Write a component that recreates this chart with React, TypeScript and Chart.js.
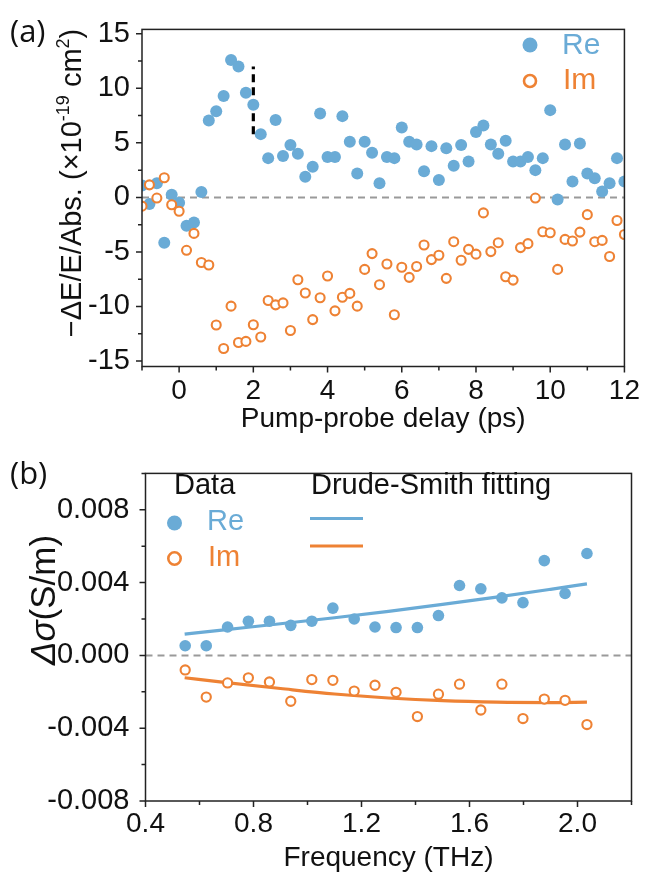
import React, { useEffect, useRef } from "react";
import { Chart, registerables } from "chart.js";
Chart.register(...registerables);

const FONT = "'Liberation Sans', Arial, sans-serif";
const BLUE = "#6aabd6";
const ORANGE = "#ee8234";
const INK = "#111111";

// ---------- Panel (a) data ----------
const DELAY = [
  -1.0, -0.8, -0.6, -0.4, -0.2, 0.0, 0.2, 0.4, 0.6, 0.8, 1.0, 1.2, 1.4, 1.6, 1.8, 2.0,
  2.2, 2.4, 2.6, 2.8, 3.0, 3.2, 3.4, 3.6, 3.8, 4.0, 4.2, 4.4, 4.6, 4.8, 5.0, 5.2, 5.4,
  5.6, 5.8, 6.0, 6.2, 6.4, 6.6, 6.8, 7.0, 7.2, 7.4, 7.6, 7.8, 8.0, 8.2, 8.4, 8.6, 8.8,
  9.0, 9.2, 9.4, 9.6, 9.8, 10.0, 10.2, 10.4, 10.6, 10.8, 11.0, 11.2, 11.4, 11.6, 11.8, 12.0,
];
const RE_A = [
  1.1, -0.6, 1.3, -4.15, 0.24, -0.5, -2.6, -2.3, 0.5, 7.06, 7.9, 9.3, 12.6, 12.0, 9.6, 8.5,
  5.8, 3.6, 7.1, 3.8, 4.8, 4.0, 1.9, 2.8, 7.7, 3.7, 3.7, 7.45, 5.1, 2.2, 5.1, 4.1, 1.3,
  3.7, 3.6, 6.4, 5.1, 4.85, 2.4, 4.7, 1.6, 4.5, 2.9, 4.8, 3.3, 6.0, 6.6, 4.85, 4.0, 5.2,
  3.3, 3.3, 3.7, 2.5, 3.6, 8.0, -0.2, 4.85, 1.45, 4.95, 2.2, 1.75, 0.55, 1.3, 3.6, 1.45,
];
const IM_A = [
  -0.8, 1.15, -0.06, 1.8, -0.67, -1.27, -4.85, -3.3, -5.97, -6.2, -11.7, -13.85, -9.97, -13.3, -13.2, -11.67,
  -12.8, -9.45, -9.85, -9.67, -12.2, -7.55, -8.76, -11.2, -9.2, -7.2, -10.4, -9.15, -8.8, -9.97, -6.6, -5.15, -8.0,
  -6.1, -10.76, -6.4, -7.33, -6.33, -4.36, -5.7, -5.3, -7.42, -4.06, -5.76, -4.76, -5.2, -1.42, -4.97, -4.15, -7.27,
  -7.58, -4.6, -4.24, -0.06, -3.15, -3.24, -6.6, -3.85, -4.0, -3.18, -1.58, -4.06, -3.94, -5.42, -2.12, -3.4,
];
const MARK_X = [2.0, 2.0];
const MARK_Y = [5.8, 12.0];
const X_MAJOR_A = [0, 2, 4, 6, 8, 10, 12];
const X_MINOR_A = [-1, 1, 3, 5, 7, 9, 11];
const Y_MAJOR_A = [-15, -10, -5, 0, 5, 10, 15];
const Y_MINOR_A = [-12.5, -7.5, -2.5, 2.5, 7.5, 12.5];
const X_LABELS_A = ["0", "2", "4", "6", "8", "10", "12"];
const Y_LABELS_A = ["-15", "-10", "-5", "0", "5", "10", "15"];

// ---------- Panel (b) data ----------
const FREQ = [
  0.547, 0.625, 0.704, 0.781, 0.859, 0.938, 1.016, 1.094, 1.173, 1.25,
  1.328, 1.407, 1.485, 1.563, 1.642, 1.72, 1.798, 1.877, 1.954, 2.035,
];
const SIG_RE = [
  0.00053, 0.00053, 0.00156, 0.00188, 0.00188, 0.00165, 0.00188, 0.0026, 0.002, 0.00156,
  0.00153, 0.00153, 0.00219, 0.00384, 0.00366, 0.00316, 0.0029, 0.00521, 0.0034, 0.0056,
];
const SIG_IM = [
  -0.0008, -0.00229, -0.00151, -0.00123, -0.00146, -0.00252, -0.00133, -0.00137, -0.00196, -0.00164,
  -0.00203, -0.00336, -0.00213, -0.00158, -0.003, -0.00158, -0.00347, -0.0024, -0.00247, -0.0038,
];
const FIT_FREQ = [0.545, 0.7, 0.9, 1.1, 1.3, 1.5, 1.7, 1.9, 2.035];
const FIT_RE = [0.00117, 0.00142, 0.00174, 0.00207, 0.00242, 0.0028, 0.0032, 0.00363, 0.00393];
const FIT_IM = [-0.00123, -0.0015, -0.00182, -0.00212, -0.00234, -0.00249, -0.00257, -0.00259, -0.00257];
const X_MAJOR_B = [0.4, 0.8, 1.2, 1.6, 2.0];
const X_MINOR_B = [0.6, 1.0, 1.4, 1.8, 2.2];
const Y_MAJOR_B = [-0.008, -0.004, 0, 0.004, 0.008];
const Y_MINOR_B = [-0.006, -0.002, 0.002, 0.006, 0.01];
const X_LABELS_B = ["0.4", "0.8", "1.2", "1.6", "2.0"];
const Y_LABELS_B = ["-0.008", "-0.004", "0.000", "0.004", "0.008"];

const pts = (xs: number[], ys: number[]) => xs.map((x, i) => ({ x, y: ys[i] }));

type Seg = { t: string; size: number; dy?: number; italic?: boolean };

function drawRich(ctx: CanvasRenderingContext2D, segs: Seg[], cx: number, cy: number, rotate: boolean, color: string) {
  ctx.save();
  ctx.translate(cx, cy);
  if (rotate) ctx.rotate(-Math.PI / 2);
  const widths = segs.map((s) => {
    ctx.font = `${s.italic ? "italic " : ""}${s.size}px ${FONT}`;
    return ctx.measureText(s.t).width;
  });
  const total = widths.reduce((a, b) => a + b, 0);
  let x = -total / 2;
  const base = segs[0].size * 0.36;
  ctx.fillStyle = color;
  ctx.textBaseline = "alphabetic";
  ctx.textAlign = "left";
  segs.forEach((s, i) => {
    ctx.font = `${s.italic ? "italic " : ""}${s.size}px ${FONT}`;
    ctx.fillText(s.t, x, base + (s.dy || 0));
    x += widths[i];
  });
  ctx.restore();
}

function text(ctx: CanvasRenderingContext2D, t: string, x: number, y: number, size: number, color: string, family = FONT) {
  ctx.font = `${size}px ${family}`;
  ctx.fillStyle = color;
  ctx.textBaseline = "middle";
  ctx.textAlign = "left";
  ctx.fillText(t, x, y);
}

function dot(ctx: CanvasRenderingContext2D, x: number, y: number, r: number) {
  ctx.beginPath();
  ctx.arc(x, y, r, 0, Math.PI * 2);
  ctx.fillStyle = BLUE;
  ctx.fill();
}
function ring(ctx: CanvasRenderingContext2D, x: number, y: number, r: number, w: number) {
  ctx.beginPath();
  ctx.arc(x, y, r, 0, Math.PI * 2);
  ctx.fillStyle = "#fff";
  ctx.fill();
  ctx.lineWidth = w;
  ctx.strokeStyle = ORANGE;
  ctx.stroke();
}

function framePlugin(
  id: string,
  xMajor: number[],
  xMinor: number[],
  yMajor: number[],
  yMinor: number[],
  extra: (ctx: CanvasRenderingContext2D, chart: any) => void
) {
  return {
    id,
    afterDraw(chart: any) {
      const { ctx, chartArea: a, scales } = chart;
      const x = scales.x;
      const y = scales.y;
      ctx.save();
      ctx.strokeStyle = "#222";
      ctx.lineWidth = 1.5;
      ctx.strokeRect(a.left, a.top, a.right - a.left, a.bottom - a.top);
      ctx.beginPath();
      xMajor.forEach((v) => {
        const p = x.getPixelForValue(v);
        ctx.moveTo(p, a.bottom);
        ctx.lineTo(p, a.bottom + 6);
      });
      xMinor.forEach((v) => {
        const p = x.getPixelForValue(v);
        ctx.moveTo(p, a.bottom);
        ctx.lineTo(p, a.bottom + 4);
      });
      yMajor.forEach((v) => {
        const p = y.getPixelForValue(v);
        ctx.moveTo(a.left, p);
        ctx.lineTo(a.left - 6, p);
      });
      yMinor.forEach((v) => {
        const p = y.getPixelForValue(v);
        ctx.moveTo(a.left, p);
        ctx.lineTo(a.left - 4, p);
      });
      ctx.stroke();
      extra(ctx, chart);
      ctx.restore();
    },
  };
}

function axis(
  min: number,
  max: number,
  major: number[],
  labels: string[],
  size: number,
  pad: number,
  fit: (s: any) => void,
  title?: any
) {
  return {
    type: "linear",
    min,
    max,
    grid: { display: false, drawTicks: false },
    border: { display: false },
    afterBuildTicks: (s: any) => {
      s.ticks = major.map((v) => ({ value: v }));
    },
    afterFit: fit,
    ticks: {
      autoSkip: false,
      maxRotation: 0,
      padding: pad,
      color: INK,
      font: { size, family: FONT },
      callback: (_v: any, i: number) => labels[i],
    },
    title: title || { display: false },
  };
}

export default function App() {
  const refA = useRef<HTMLCanvasElement>(null);
  const refB = useRef<HTMLCanvasElement>(null);

  useEffect(() => {
    Chart.defaults.font.family = FONT;

    const extraA = (ctx: CanvasRenderingContext2D) => {
      text(ctx, "(a)", 10, 33, 31, INK, "'Open Sans', 'Noto Sans', sans-serif");
      drawRich(
        ctx,
        [
          { t: "\u2212\u0394E/E/Abs. (\u00d710", size: 29 },
          { t: "-19", size: 18, dy: -12 },
          { t: " cm", size: 29 },
          { t: "2", size: 18, dy: -12 },
          { t: ")", size: 29 },
        ],
        71,
        183,
        true,
        INK
      );
      dot(ctx, 530, 45, 7.5);
      text(ctx, "Re", 562, 46, 30, BLUE);
      ring(ctx, 530, 81, 6, 2.6);
      text(ctx, "Im", 563, 81, 30, ORANGE);
    };

    const chartA = new Chart(refA.current as HTMLCanvasElement, {
      type: "scatter",
      data: {
        datasets: [
          {
            label: "Im",
            data: pts(DELAY, IM_A),
            pointStyle: "circle",
            pointRadius: 4.5,
            pointBorderWidth: 2.1,
            pointBorderColor: ORANGE,
            pointBackgroundColor: "#fff",
            borderColor: ORANGE,
            backgroundColor: "#fff",
            clip: 0,
            order: 1,
          },
          {
            label: "Re",
            data: pts(DELAY, RE_A),
            pointStyle: "circle",
            pointRadius: 6,
            pointBorderWidth: 0,
            pointBackgroundColor: BLUE,
            borderColor: BLUE,
            backgroundColor: BLUE,
            clip: 0,
            order: 2,
          },
          {
            label: "mark",
            data: pts(MARK_X, MARK_Y),
            showLine: true,
            borderColor: "#000",
            borderWidth: 3.2,
            borderDash: [8, 5],
            pointRadius: 0,
            clip: 0,
            order: 3,
          },
          {
            label: "zero",
            data: pts([-1, 12], [0, 0]),
            showLine: true,
            borderColor: "#9a9a9a",
            borderWidth: 2,
            borderDash: [7, 5],
            pointRadius: 0,
            clip: 0,
            order: 4,
          },
        ],
      },
      options: {
        animation: false,
        responsive: false,
        events: [],
        layout: { padding: { left: 0, right: 19, top: 26, bottom: 0 } },
        plugins: { legend: { display: false }, tooltip: { enabled: false } },
        scales: {
          x: axis(-1, 12, X_MAJOR_A, X_LABELS_A, 28, 8, (s: any) => {
            s.height = 73.5;
          }, {
            display: true,
            text: "Pump-probe delay (ps)",
            color: INK,
            font: { size: 28, family: FONT, lineHeight: 1.2 },
            padding: { top: 0, bottom: 4 },
          }),
          y: axis(-15.5, 15.4, Y_MAJOR_A, Y_LABELS_A, 29, 12, (s: any) => {
            s.width = 142;
          }),
        },
      } as any,
      plugins: [framePlugin("frameA", X_MAJOR_A, X_MINOR_A, Y_MAJOR_A, Y_MINOR_A, extraA)],
    } as any);

    const extraB = (ctx: CanvasRenderingContext2D) => {
      text(ctx, "(b)", 10, 35, 31, INK, "'Open Sans', 'Noto Sans', sans-serif");
      drawRich(
        ctx,
        [
          { t: "\u0394\u03c3", size: 35, italic: true },
          { t: "(S/m)", size: 35 },
        ],
        42,
        160,
        true,
        INK
      );
      text(ctx, "Data", 174, 46, 29, INK);
      text(ctx, "Drude-Smith fitting", 311, 46, 29, INK);
      dot(ctx, 174.5, 83, 7.5);
      text(ctx, "Re", 207, 82, 29, BLUE);
      ring(ctx, 174.5, 118.5, 6.2, 2.6);
      text(ctx, "Im", 208, 118, 29, ORANGE);
      ctx.lineWidth = 3.2;
      ctx.lineCap = "butt";
      ctx.strokeStyle = BLUE;
      ctx.beginPath();
      ctx.moveTo(310, 78.5);
      ctx.lineTo(363, 78.5);
      ctx.stroke();
      ctx.strokeStyle = ORANGE;
      ctx.beginPath();
      ctx.moveTo(310, 106);
      ctx.lineTo(363, 106);
      ctx.stroke();
    };

    const chartB = new Chart(refB.current as HTMLCanvasElement, {
      type: "scatter",
      data: {
        datasets: [
          {
            label: "Im",
            data: pts(FREQ, SIG_IM),
            pointRadius: 4.6,
            pointBorderWidth: 2.1,
            pointBorderColor: ORANGE,
            pointBackgroundColor: "#fff",
            clip: 0,
            order: 1,
          },
          {
            label: "Re",
            data: pts(FREQ, SIG_RE),
            pointRadius: 5.8,
            pointBorderWidth: 0,
            pointBackgroundColor: BLUE,
            clip: 0,
            order: 2,
          },
          {
            label: "Fit Im",
            data: pts(FIT_FREQ, FIT_IM),
            showLine: true,
            borderColor: ORANGE,
            borderWidth: 3.2,
            cubicInterpolationMode: "monotone",
            pointRadius: 0,
            clip: 0,
            order: 3,
          },
          {
            label: "Fit Re",
            data: pts(FIT_FREQ, FIT_RE),
            showLine: true,
            borderColor: BLUE,
            borderWidth: 3.2,
            cubicInterpolationMode: "monotone",
            pointRadius: 0,
            clip: 0,
            order: 4,
          },
          {
            label: "zero",
            data: pts([0.4, 2.2], [0, 0]),
            showLine: true,
            borderColor: "#9a9a9a",
            borderWidth: 2,
            borderDash: [7, 5],
            pointRadius: 0,
            clip: 0,
            order: 5,
          },
        ],
      },
      options: {
        animation: false,
        responsive: false,
        events: [],
        layout: { padding: { left: 0, right: 16.5, top: 24, bottom: 0 } },
        plugins: { legend: { display: false }, tooltip: { enabled: false } },
        scales: {
          x: axis(0.4, 2.2, X_MAJOR_B, X_LABELS_B, 28, 6, (s: any) => {
            s.height = 73;
          }, {
            display: true,
            text: "Frequency (THz)",
            color: INK,
            font: { size: 28, family: FONT, lineHeight: 1.1 },
            padding: { top: 0, bottom: 0 },
          }),
          y: axis(-0.008, 0.01, Y_MAJOR_B, Y_LABELS_B, 29, 16, (s: any) => {
            s.width = 145.5;
          }),
        },
      } as any,
      plugins: [framePlugin("frameB", X_MAJOR_B, X_MINOR_B, Y_MAJOR_B, Y_MINOR_B, extraB)],
    } as any);

    return () => {
      chartA.destroy();
      chartB.destroy();
    };
  }, []);

  return (
    <div style={{ position: "absolute", left: 0, top: 0, width: 648, height: 874, background: "#fff", overflow: "hidden" }}>
      <div style={{ position: "absolute", left: 0, top: 0, width: 648, height: 440 }}>
        <canvas ref={refA} width={648} height={440} style={{ display: "block" }} />
      </div>
      <div style={{ position: "absolute", left: 0, top: 440, width: 648, height: 434 }}>
        <canvas ref={refB} width={648} height={434} style={{ display: "block" }} />
      </div>
    </div>
  );
}
